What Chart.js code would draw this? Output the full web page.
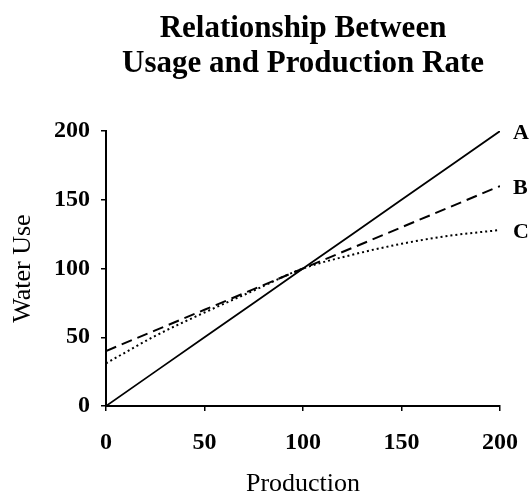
<!DOCTYPE html>
<html>
<head>
<meta charset="utf-8">
<title>Relationship Between Usage and Production Rate</title>
<script src="https://cdn.jsdelivr.net/npm/chart.js@4.4.1/dist/chart.umd.min.js"></script>
<style>
    html, body { margin: 0; padding: 0; background: #fff; }
    #wrap { width: 530px; height: 500px; }
</style>
</head>
<body>
<div id="wrap"><canvas id="usageChart" width="530" height="500"></canvas></div>
<script>
// Production values (x) shared by all three curves
const production = [0, 25, 50, 75, 100, 125, 150, 175, 200];

// Water use for each curve
const waterUseA = [0, 25, 50, 75, 100, 125, 150, 175, 200];
const waterUseB = [40, 55, 70, 85, 100, 115, 130, 145, 160];
const waterUseC = [31, 51, 68, 84, 100, 110, 118, 124, 128];

const curveNames = ['A', 'B', 'C'];
const xTicks = [0, 50, 100, 150, 200];
const yTicks = [0, 50, 100, 150, 200];

const serif = '"Liberation Serif", "DejaVu Serif", serif';

function toPoints(values) {
    return production.map((x, i) => ({ x: x, y: values[i] }));
}

// Puts the A / B / C tag just right of where each line ends
const endLabels = {
    id: 'endLabels',
    afterDatasetsDraw(chart) {
        const ctx = chart.ctx;
        ctx.save();
        ctx.font = 'bold 22px ' + serif;
        ctx.fillStyle = '#000';
        ctx.textAlign = 'left';
        ctx.textBaseline = 'middle';
        chart.data.datasets.forEach((ds, i) => {
            const pts = chart.getDatasetMeta(i).data;
            const last = pts[pts.length - 1];
            ctx.fillText(ds.label, last.x + 13, last.y + 2);
        });
        ctx.restore();
    }
};

const ctx = document.getElementById('usageChart').getContext('2d');

new Chart(ctx, {
    type: 'line',
    data: {
        datasets: [
            {
                label: curveNames[0],
                data: toPoints(waterUseA),
                borderColor: '#000',
                borderWidth: 1.8,
                pointRadius: 0,
                fill: false
            },
            {
                label: curveNames[1],
                data: toPoints(waterUseB),
                borderColor: '#000',
                borderWidth: 2,
                borderDash: [11, 6],
                pointRadius: 0,
                fill: false
            },
            {
                label: curveNames[2],
                data: toPoints(waterUseC),
                borderColor: '#000',
                borderWidth: 2,
                borderDash: [2, 3],
                cubicInterpolationMode: 'monotone',
                pointRadius: 0,
                fill: false
            }
        ]
    },
    options: {
        responsive: false,
        animation: false,
        layout: {
            padding: { left: 0, right: 30, top: 0, bottom: 0 }
        },
        plugins: {
            legend: { display: false },
            tooltip: { enabled: false },
            title: {
                display: true,
                fullSize: false,
                text: ['Relationship Between', 'Usage and Production Rate'],
                color: '#000',
                font: { family: serif, size: 31, weight: 'bold', lineHeight: 1.13 },
                padding: { top: 11, bottom: 50 }
            }
        },
        scales: {
            x: {
                type: 'linear',
                min: 0,
                max: 200,
                afterBuildTicks: (scale) => { scale.ticks = xTicks.map(v => ({ value: v })); },
                afterFit: (scale) => {
                    scale.height = 94;
                    // keep the plot's right edge fixed; layout padding leaves room for "200"
                    scale.paddingLeft = 0;
                    scale.paddingRight = 0;
                },
                border: { display: true, color: '#000', width: 2 },
                grid: { drawOnChartArea: false, color: '#000', lineWidth: 1.5, tickLength: 5 },
                ticks: {
                    color: '#000',
                    padding: 17,
                    maxRotation: 0,
                    font: { family: serif, size: 24, weight: 'bold' }
                },
                title: {
                    display: true,
                    text: 'Production',
                    color: '#000',
                    font: { family: serif, size: 26 },
                    padding: { top: 0, bottom: 0 }
                }
            },
            y: {
                type: 'linear',
                min: 0,
                max: 200,
                afterBuildTicks: (scale) => { scale.ticks = yTicks.map(v => ({ value: v })); },
                afterFit: (scale) => { scale.width = 106; },
                border: { display: true, color: '#000', width: 2 },
                grid: { drawOnChartArea: false, color: '#000', lineWidth: 1.5, tickLength: 5 },
                ticks: {
                    color: '#000',
                    padding: 11,
                    font: { family: serif, size: 24, weight: 'bold' }
                },
                title: {
                    display: true,
                    text: 'Water Use',
                    color: '#000',
                    font: { family: serif, size: 26 },
                    padding: { top: 8, bottom: 8 }
                }
            }
        }
    },
    plugins: [endLabels]
});
</script>
</body>
</html>
